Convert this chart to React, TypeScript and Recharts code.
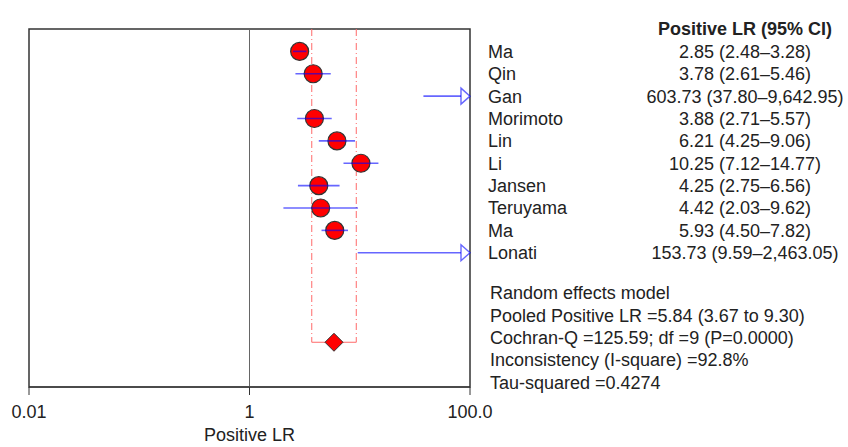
import {
  ComposedChart,
  ReferenceArea,
  ReferenceDot,
  ReferenceLine,
  Scatter,
  XAxis,
  YAxis,
} from "recharts";

const studies = ["Ma", "Qin", "Gan", "Morimoto", "Lin", "Li", "Jansen", "Teruyama", "Ma", "Lonati"];
const estimates = [2.85, 3.78, 603.73, 3.88, 6.21, 10.25, 4.25, 4.42, 5.93, 153.73];
const lower = [2.48, 2.61, 37.8, 2.71, 4.25, 7.12, 2.75, 2.03, 4.5, 9.59];
const upper = [3.28, 5.46, 9642.95, 5.57, 9.06, 14.77, 6.56, 9.62, 7.82, 2463.05];
const ciLabels = [
  "2.85 (2.48–3.28)",
  "3.78 (2.61–5.46)",
  "603.73 (37.80–9,642.95)",
  "3.88 (2.71–5.57)",
  "6.21 (4.25–9.06)",
  "10.25 (7.12–14.77)",
  "4.25 (2.75–6.56)",
  "4.42 (2.03–9.62)",
  "5.93 (4.50–7.82)",
  "153.73 (9.59–2,463.05)",
];
const pooledEst = 5.84;
const pooledLo = 3.67;
const pooledHi = 9.3;
const statsLines = [
  "Random effects model",
  "Pooled Positive LR =5.84 (3.67 to 9.30)",
  "Cochran-Q =125.59; df =9 (P=0.0000)",
  "Inconsistency (I-square) =92.8%",
  "Tau-squared =0.4274",
];
const xTicks = [0.01, 1, 100];
const xMin = 0.01;
const xMax = 100;
const headerRow = -1;
const pooledRow = 13;
const lastRow = 15;

const rows = studies.map((name, i) => ({
  name,
  row: i,
  est: estimates[i],
  lo: Math.max(lower[i], xMin),
  hi: Math.min(upper[i], xMax),
  clipped: upper[i] > xMax,
}));
const pointRows = rows.filter((r) => r.est <= xMax);
const pooledData = [{ est: pooledEst, row: pooledRow }];

const FONT = "'Liberation Sans', Arial, Helvetica, sans-serif";
const FS = 18;
const RED_LINE = "#ff6a6a";
const BLUE = "rgba(0,0,255,0.6)";

function StudyDot({ cx, cy }: any) {
  return <circle cx={cx} cy={cy} r={9} fill="#ff0000" stroke="#333" strokeWidth={1.2} />;
}

function Diamond({ cx, cy }: any) {
  const s = 9;
  return (
    <polygon
      points={`${cx - s},${cy} ${cx},${cy - s} ${cx + s},${cy} ${cx},${cy + s}`}
      fill="#ff0000"
      stroke="#333"
      strokeWidth={1}
    />
  );
}

function Arrow({ cx, cy }: any) {
  return (
    <polygon
      points={`${cx - 9},${cy - 8} ${cx},${cy} ${cx - 9},${cy + 8}`}
      fill="#fff"
      stroke={BLUE}
      strokeWidth={1.4}
    />
  );
}

const NoDot = () => <g />;

function RowTick({ x, y, payload }: any) {
  const v = payload.value;
  if (v === headerRow) {
    return (
      <text x={x + 275} y={y} dy="0.36em" textAnchor="middle" fontSize={FS} fontWeight="bold" fill="#222" fontFamily={FONT}>
        Positive LR (95% CI)
      </text>
    );
  }
  return (
    <g fontFamily={FONT} fontSize={FS} fill="#222">
      <text x={x + 18} y={y} dy="0.36em">
        {studies[v]}
      </text>
      <text x={x + 275} y={y} dy="0.36em" textAnchor="middle">
        {ciLabels[v]}
      </text>
    </g>
  );
}

export default function App() {
  return (
    <div style={{ width: 848, height: 447, fontFamily: FONT, background: "#fff" }}>
      <style>{`body{margin:0}`}</style>
      <ComposedChart width={848} height={447} margin={{ top: 29, right: 0, bottom: 0, left: 29 }}>
        <XAxis
          type="number"
          dataKey="est"
          scale="log"
          domain={[xMin, xMax]}
          ticks={xTicks}
          allowDataOverflow
          height={60}
          tickSize={8}
          tickMargin={10}
          stroke="#333"
          tick={{ fontSize: FS, fill: "#222" }}
          tickFormatter={(v: number) => (v === 100 ? "100.0" : String(v))}
          label={{ value: "Positive LR", position: "insideBottom", offset: 6, fontSize: FS, fill: "#222" }}
        />
        <YAxis
          type="number"
          dataKey="row"
          orientation="right"
          reversed
          domain={[headerRow, lastRow]}
          ticks={[headerRow, ...rows.map((r) => r.row)]}
          width={378}
          axisLine={false}
          tickLine={false}
          tickSize={0}
          tickMargin={0}
          tick={<RowTick />}
          interval={0}
        />
        <ReferenceArea
          x1={xMin}
          x2={xMax}
          y1={headerRow}
          y2={lastRow}
          fill="none"
          stroke="#333"
          strokeWidth={1.5}
        />
        <ReferenceLine x={1} stroke="#666" strokeWidth={1} />
        <ReferenceLine
          segment={[{ x: pooledLo, y: headerRow }, { x: pooledLo, y: pooledRow }]}
          stroke={RED_LINE}
          strokeDasharray="7 3 1 3"
        />
        <ReferenceLine
          segment={[{ x: pooledHi, y: headerRow }, { x: pooledHi, y: pooledRow }]}
          stroke={RED_LINE}
          strokeDasharray="7 3 1 3"
        />
        <ReferenceLine
          segment={[{ x: pooledLo, y: pooledRow }, { x: pooledHi, y: pooledRow }]}
          stroke={RED_LINE}
        />
        <Scatter data={pointRows} dataKey="row" shape={<StudyDot />} isAnimationActive={false} />
        <Scatter data={pooledData} dataKey="row" shape={<Diamond />} isAnimationActive={false} />
        {rows.map((r) => (
          <Scatter
            key={`ci-${r.row}`}
            data={[
              { est: r.lo, row: r.row },
              { est: r.hi, row: r.row },
            ]}
            dataKey="row"
            line={{ stroke: BLUE, strokeWidth: 1.6 }}
            shape={<NoDot />}
            isAnimationActive={false}
          />
        ))}
        {rows
          .filter((r) => r.clipped)
          .map((r) => (
            <ReferenceDot key={`arrow-${r.row}`} x={xMax} y={r.row} shape={<Arrow />} />
          ))}
        <g fontFamily={FONT} fontSize={FS} fill="#222">
          {statsLines.map((s, i) => (
            <text key={i} x={490} y={293 + i * 22.3} dy="0.36em">
              {s}
            </text>
          ))}
        </g>
      </ComposedChart>
    </div>
  );
}
